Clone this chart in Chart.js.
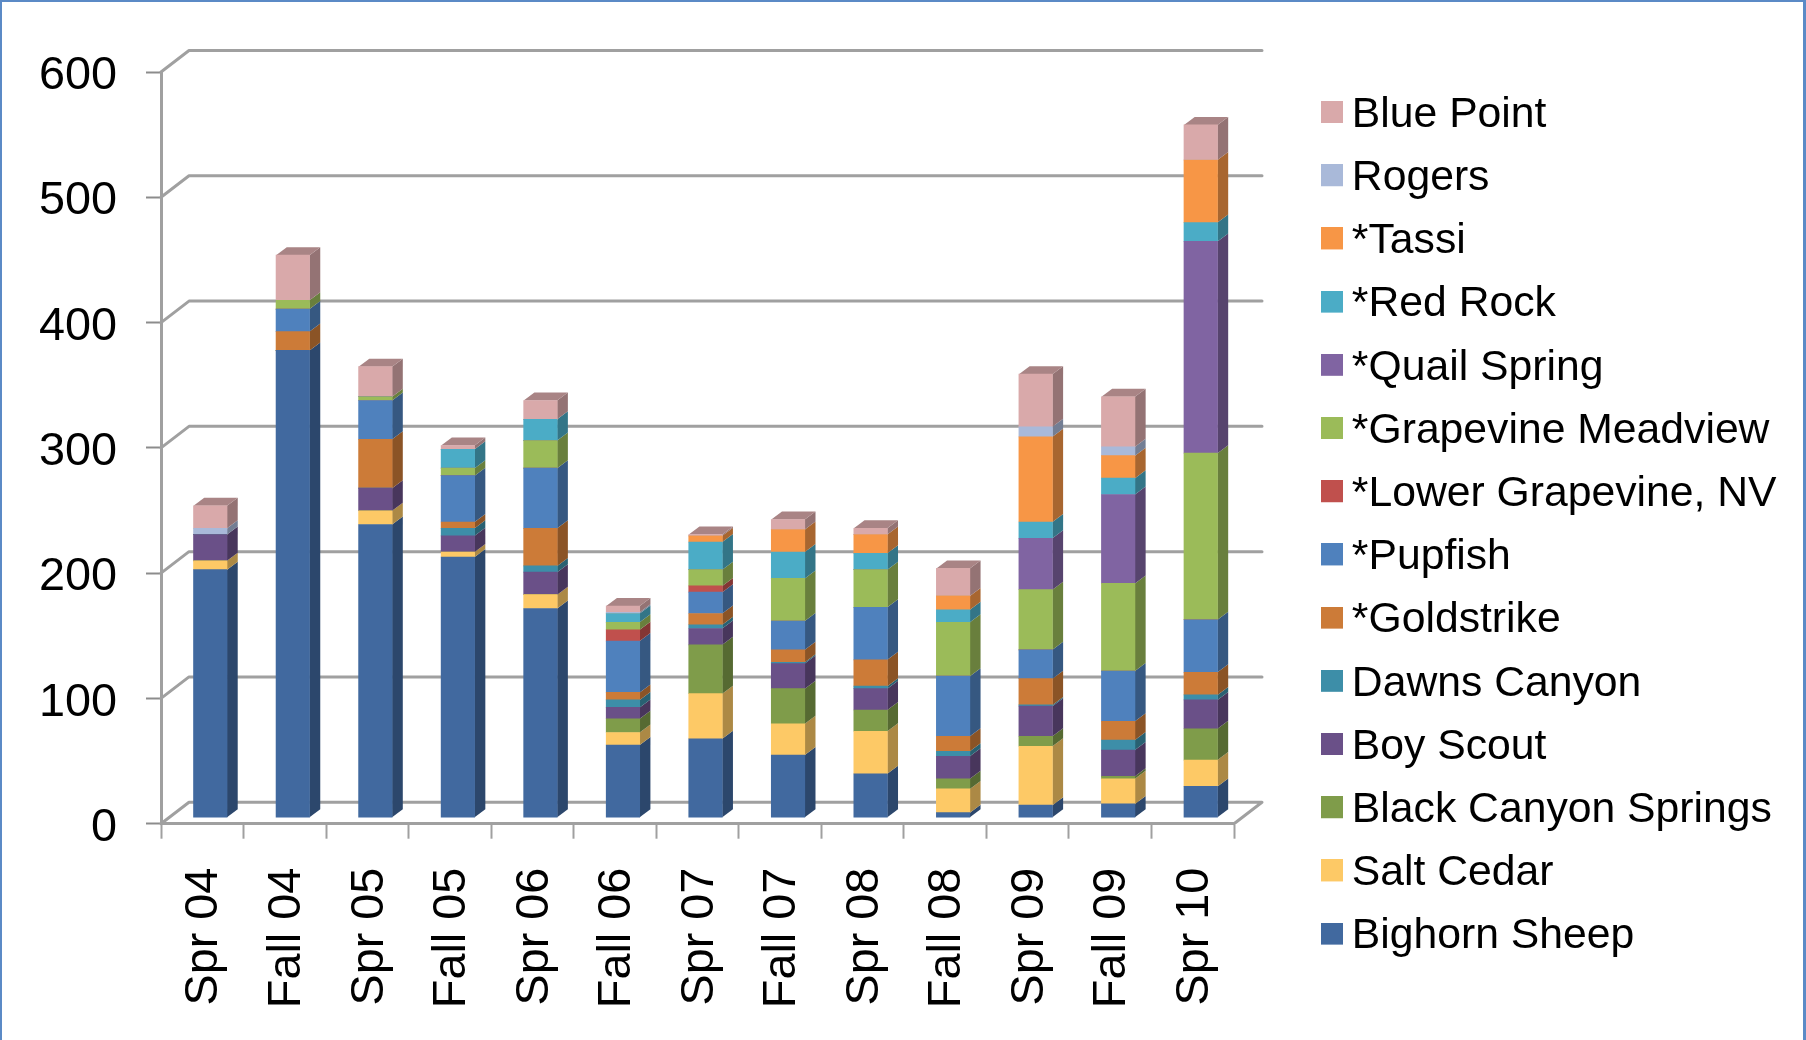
<!DOCTYPE html>
<html>
<head>
<meta charset="utf-8">
<title>Bighorn and spring survey counts</title>
<script src="https://cdn.jsdelivr.net/npm/chart.js@4"></script>
<style>
  html, body { margin: 0; padding: 0; background: #fff; overflow: hidden; }
  #stage { position: relative; width: 1806px; height: 1040px; }
  #frame { position: absolute; inset: 0; box-sizing: border-box; pointer-events: none;
           border-style: solid; border-color: #5b8ac6; border-width: 2px 3px 0 2px; }
  canvas { display: block; }
</style>
</head>
<body>
<div id="stage">
  <canvas id="chart" width="1806" height="1040"></canvas>
  <div id="frame"></div>
</div>
<script>
const surveys = ['Spr 04','Fall 04','Spr 05','Fall 05','Spr 06','Fall 06','Spr 07','Fall 07','Spr 08','Fall 08','Spr 09','Fall 09','Spr 10'];

// Survey counts per site, bottom of the stack first.
const bighornSheep      = [198,373,234,208,167,58,63,50,35,4,10,11,25];
const saltCedar         = [7,0,11,4,11,10,36,25,34,19,47,20,21];
const blackCanyon       = [0,0,0,0,0,11,39,28,17,8,8,2,25];
const boyScout          = [21,0,18,13,18,9,13,20,17,18,24,21,23];
const dawnsCanyon       = [0,0,0,6,5,6,3,1,2,4,1,8,4];
const goldstrike        = [0,15,39,5,30,6,9,10,21,12,21,15,18];
const pupfish           = [0,18,31,37,48,41,17,23,42,48,23,40,42];
const lowerGrapevine    = [0,0,0,0,0,9,5,0,0,0,0,0,0];
const grapevineMeadview = [0,7,3,6,22,6,13,34,30,43,48,70,133];
const quailSpring       = [0,0,0,0,0,0,0,0,0,0,41,71,169];
const redRock           = [0,0,0,15,17,7,22,21,13,10,13,13,15];
const tassi             = [0,0,0,0,0,0,5,18,15,11,68,18,50];
const rogers            = [5,0,0,0,0,1,0,0,0,0,8,7,0];
const bluePoint         = [18,36,24,3,15,5,1,8,5,22,42,40,28];

const seriesNames = ['Bighorn Sheep','Salt Cedar','Black Canyon Springs','Boy Scout','Dawns Canyon','*Goldstrike','*Pupfish','*Lower Grapevine, NV','*Grapevine Meadview','*Quail Spring','*Red Rock','*Tassi','Rogers','Blue Point'];
const seriesValues = [bighornSheep,saltCedar,blackCanyon,boyScout,dawnsCanyon,goldstrike,pupfish,lowerGrapevine,grapevineMeadview,quailSpring,redRock,tassi,rogers,bluePoint];
const seriesColors = ['#41699f','#fdc966','#7f9c4a','#6a5088','#3d8ea8','#cc7b38','#4f81bd','#c0504d','#9bbb59','#8064a2','#4bacc6','#f79646','#a9b9d9','#d9a9aa'];

const FONT = '"Liberation Sans", Arial, sans-serif';
const GRID = '#a0a0a0';
// Projection of the box: back wall relative to the front plane, and bars relative to the front plane.
const WALL = { dx: 28, dy: 21.5 };
const BAR_SHIFT = { dx: 8, dy: 6 };
const BAR_DEPTH = { dx: 10.7, dy: 8 };

function shade(hex, k) {
  const n = parseInt(hex.slice(1), 16);
  const c = s => Math.round(((n >> s) & 255) * k);
  return `rgb(${c(16)},${c(8)},${c(0)})`;
}

function polygon(ctx, pts, fill) {
  ctx.fillStyle = fill;
  ctx.beginPath();
  pts.forEach((p, i) => i ? ctx.lineTo(p[0], p[1]) : ctx.moveTo(p[0], p[1]));
  ctx.closePath();
  ctx.fill();
}

// Legend key: a 22px square placed off-centre so it sits close to, and slightly above, its text.
function legendSwatch(color) {
  const c = document.createElement('canvas');
  c.width = 28;
  c.height = 28;
  const g = c.getContext('2d');
  g.fillStyle = color;
  g.fillRect(5, 0, 22, 22);
  return c;
}

// Draws the back wall and floor, then the side and top faces of every stacked bar.
const boxPlugin = {
  id: 'box3d',
  afterLayout(chart) {
    const lg = chart.legend;
    lg.left = 1309; lg.right = 1800; lg.top = 73.15; lg.bottom = 1040;
  },
  beforeDatasetsDraw(chart) {
    const { ctx, scales: { x, y } } = chart;
    const L = x.left, R = x.right;
    ctx.save();
    ctx.strokeStyle = GRID;
    ctx.lineWidth = 3;
    ctx.lineCap = 'round';
    ctx.lineJoin = 'round';
    y.ticks.forEach(t => {
      const py = y.getPixelForValue(t.value);
      ctx.beginPath();
      ctx.moveTo(L, py);
      ctx.lineTo(L + WALL.dx, py - WALL.dy);
      ctx.lineTo(R + WALL.dx, py - WALL.dy);
      if (t.value === 0) ctx.lineTo(R, py);
      ctx.stroke();
    });
    ctx.restore();

    ctx.save();
    ctx.translate(BAR_SHIFT.dx, -BAR_SHIFT.dy);
    const d = BAR_DEPTH;
    surveys.forEach((_, i) => {
      let top = -1;
      seriesValues.forEach((vals, s) => {
        if (!vals[i]) return;
        const b = chart.getDatasetMeta(s).data[i];
        const xr = b.x + b.width / 2;
        polygon(ctx, [[xr, b.y], [xr + d.dx, b.y - d.dy], [xr + d.dx, b.base - d.dy], [xr, b.base]], shade(seriesColors[s], 0.68));
        top = s;
      });
      if (top >= 0) {
        const b = chart.getDatasetMeta(top).data[i];
        const xl = b.x - b.width / 2, xr = b.x + b.width / 2;
        polygon(ctx, [[xl, b.y], [xr, b.y], [xr + d.dx, b.y - d.dy], [xl + d.dx, b.y - d.dy]], shade(seriesColors[top], 0.78));
      }
    });
  },
  afterDatasetsDraw(chart) {
    chart.ctx.restore();
  }
};

new Chart(document.getElementById('chart'), {
  type: 'bar',
  data: {
    labels: surveys,
    datasets: seriesNames.map((name, s) => ({
      label: name,
      data: seriesValues[s],
      backgroundColor: seriesColors[s],
      borderWidth: 0,
      barThickness: 33.5,
      clip: false
    }))
  },
  plugins: [boxPlugin],
  options: {
    responsive: false,
    animation: false,
    events: [],
    layout: { padding: { left: 0, top: 72, right: 571, bottom: 0 } },
    plugins: {
      title: { display: false },
      tooltip: { enabled: false },
      legend: {
        position: 'right',
        align: 'start',
        reverse: true,
        maxWidth: 1,
        labels: {
          usePointStyle: true,
          boxWidth: 1,
          boxHeight: 22,
          padding: 20.5,
          color: '#000',
          font: { family: FONT, size: 42.7, lineHeight: 1 },
          generateLabels(chart) {
            return Chart.defaults.plugins.legend.labels.generateLabels(chart).map(item => ({
              ...item,
              pointStyle: legendSwatch(seriesColors[item.datasetIndex])
            }));
          }
        }
      }
    },
    scales: {
      x: {
        stacked: true,
        afterFit(scale) { scale.height = 216.3; },
        grid: { drawOnChartArea: false, drawTicks: true, tickLength: 15, tickColor: GRID, tickWidth: 2, offset: true },
        border: { color: GRID, width: 3 },
        ticks: {
          autoSkip: false,
          minRotation: 90,
          maxRotation: 90,
          padding: 29,
          labelOffset: 2.3,
          color: '#000',
          font: { family: FONT, size: 46.8 }
        }
      },
      y: {
        stacked: true,
        min: 0,
        max: 600,
        afterFit(scale) { scale.width = 161; },
        grid: { drawOnChartArea: false, drawTicks: true, tickLength: 15, tickColor: '#8c8c8c', tickWidth: 2 },
        border: { color: GRID, width: 3 },
        ticks: {
          stepSize: 100,
          padding: 29,
          labelOffset: 4.2,
          color: '#000',
          font: { family: FONT, size: 46.8 }
        }
      }
    }
  }
});
</script>
</body>
</html>
